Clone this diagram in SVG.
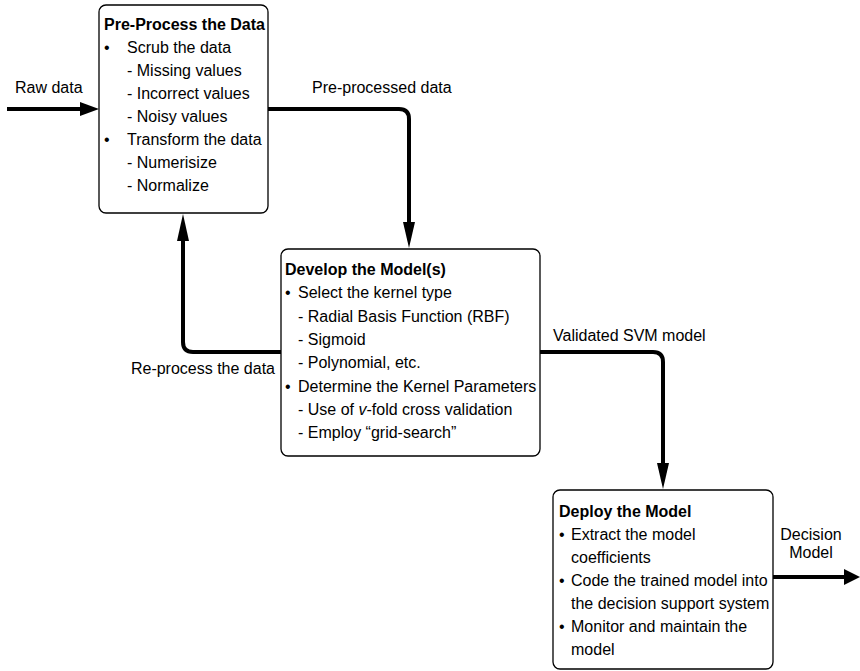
<svg xmlns="http://www.w3.org/2000/svg" width="860" height="671" viewBox="0 0 860 671">
<style>
text{font-family:"Liberation Sans",Arial,sans-serif;font-size:16px;fill:#000}
.b{font-weight:bold}
.box{fill:#fff;stroke:#000;stroke-width:1.3}
.ln{fill:none;stroke:#000;stroke-width:4}
.ah{fill:#000;stroke:none}
</style>
<rect width="860" height="671" fill="#fff"/>
<g id="connectors">
  <path class="ln" d="M7,109 H82"/>
  <polygon class="ah" points="80,102 99,109 80,116"/>
  <path class="ln" d="M268,109 H399 Q409,109 409,119 V224"/>
  <polygon class="ah" points="403,222 415,222 409,248"/>
  <path class="ln" d="M281,352 H193 Q183,352 183,342 V240"/>
  <polygon class="ah" points="177,241 189,241 183,214"/>
  <path class="ln" d="M540,352 H653 Q663,352 663,362 V465"/>
  <polygon class="ah" points="657,463 669,463 663,489"/>
  <path class="ln" d="M773,577 H846"/>
  <polygon class="ah" points="844,569 860,577 844,585"/>
  <text x="15" y="93">Raw data</text>
  <text x="312" y="93">Pre-processed data</text>
  <text x="275" y="374" text-anchor="end">Re-process the data</text>
  <text x="553" y="341">Validated SVM model</text>
  <text x="811" y="540" text-anchor="middle">Decision</text>
  <text x="811" y="558" text-anchor="middle">Model</text>
</g>
<g id="preprocess">
  <rect class="box" x="99" y="5" width="169" height="208" rx="7"/>
  <text class="b" x="104" y="30">Pre-Process the Data</text>
  <text x="104" y="53">•</text><text x="127" y="53">Scrub the data</text>
  <text x="127" y="76">- Missing values</text>
  <text x="127" y="99">- Incorrect values</text>
  <text x="127" y="122">- Noisy values</text>
  <text x="104" y="145">•</text><text x="127" y="145">Transform the data</text>
  <text x="127" y="168">- Numerisize</text>
  <text x="127" y="191">- Normalize</text>
</g>
<g id="develop">
  <rect class="box" x="281" y="249" width="259" height="207" rx="7"/>
  <text class="b" x="285" y="275">Develop the Model(s)</text>
  <text x="285" y="298">•</text><text x="298" y="298">Select the kernel type</text>
  <text x="298" y="322">- Radial Basis Function (RBF)</text>
  <text x="298" y="345">- Sigmoid</text>
  <text x="298" y="368">- Polynomial, etc.</text>
  <text x="285" y="392">•</text><text x="298" y="392">Determine the Kernel Parameters</text>
  <text x="298" y="415">- Use of <tspan font-style="italic">v</tspan>-fold cross validation</text>
  <text x="298" y="438">- Employ “grid-search”</text>
</g>
<g id="deploy">
  <rect class="box" x="553" y="490" width="220" height="179" rx="7"/>
  <text class="b" x="559" y="517">Deploy the Model</text>
  <text x="559" y="540">•</text><text x="571" y="540">Extract the model</text>
  <text x="571" y="563">coefficients</text>
  <text x="559" y="586">•</text><text x="571" y="586">Code the trained model into</text>
  <text x="571" y="609">the decision support system</text>
  <text x="559" y="632">•</text><text x="571" y="632">Monitor and maintain the</text>
  <text x="571" y="655">model</text>
</g>
</svg>
